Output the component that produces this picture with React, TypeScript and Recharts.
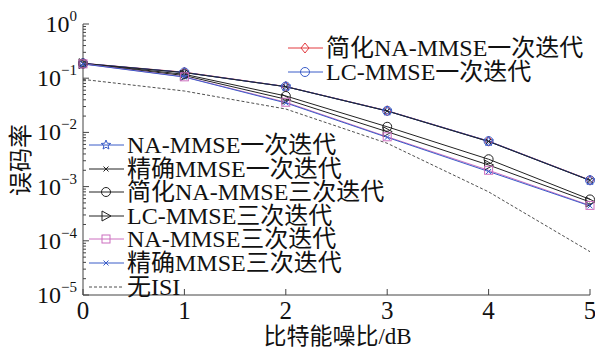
import React from "react";
import { LineChart, Line, XAxis, YAxis } from "recharts";

const SNR = [0, 1, 2, 3, 4, 5];
const X_TICKS = [0, 1, 2, 3, 4, 5];
const DECADES = [1e-5, 1e-4, 1e-3, 1e-2, 1e-1, 1];

// 一次迭代
const SIMP_NA_1 = [0.188, 0.129, 0.0702, 0.0251, 0.0069, 0.00132];
const LC_1 = [0.188, 0.128, 0.07, 0.025, 0.0069, 0.00131];
const NA_1 = [0.187, 0.127, 0.0698, 0.0248, 0.0068, 0.0013];
const EXACT_1 = [0.187, 0.127, 0.0697, 0.0248, 0.0068, 0.0013];
// 三次迭代
const SIMP_NA_3 = [0.186, 0.118, 0.047, 0.0127, 0.0032, 0.00058];
const LC_3 = [0.185, 0.112, 0.041, 0.0103, 0.0025, 0.00052];
const NA_3 = [0.184, 0.106, 0.036, 0.0083, 0.002, 0.00045];
const EXACT_3 = [0.183, 0.105, 0.035, 0.0081, 0.0019, 0.00044];
const NO_ISI = [0.095, 0.058, 0.027, 0.0063, 0.0008, 0.000063];

const W = 595;
const H = 350;
const PL = 83;
const PR = 590;
const PT = 24;
const PB = 295;
const AX = "#444";
const FONT = "'Liberation Serif', 'Noto Sans CJK SC', serif";

const RED = "#e23a3f";
const BLUE = "#3a5cc8";
const PINK = "#cc6fbf";
const BLACK = "#222";

const minorTicks: number[] = [];
DECADES.slice(0, 5).forEach((d) => {
  for (let k = 1; k < 10; k++) minorTicks.push(d * k);
});
minorTicks.push(1);

type Shape = "diamond" | "circle" | "star" | "x" | "tri" | "square" | "none";

function marker(shape: Shape, cx: number, cy: number, color: string, key?: string) {
  const p = { key, fill: "none", stroke: color, strokeWidth: 1 };
  if (shape === "diamond")
    return <path {...p} d={`M${cx},${cy - 5}L${cx + 4},${cy}L${cx},${cy + 5}L${cx - 4},${cy}Z`} />;
  if (shape === "circle") return <circle {...p} cx={cx} cy={cy} r={4.5} />;
  if (shape === "square") return <rect {...p} x={cx - 4} y={cy - 4} width={8} height={8} />;
  if (shape === "tri")
    return <path {...p} d={`M${cx + 5},${cy}L${cx - 4},${cy - 5}L${cx - 4},${cy + 5}Z`} />;
  if (shape === "x")
    return (
      <path {...p} d={`M${cx - 2.5},${cy - 2.5}L${cx + 2.5},${cy + 2.5}M${cx - 2.5},${cy + 2.5}L${cx + 2.5},${cy - 2.5}`} />
    );
  if (shape === "star") {
    let d = "";
    for (let i = 0; i < 10; i++) {
      const r = i % 2 === 0 ? 5 : 2.2;
      const a = -Math.PI / 2 + (i * Math.PI) / 5;
      d += `${i === 0 ? "M" : "L"}${cx + r * Math.cos(a)},${cy + r * Math.sin(a)}`;
    }
    return <path {...p} d={d + "Z"} />;
  }
  return <g key={key} />;
}

const SERIES = [
  { key: "simpNa1", label: "简化NA-MMSE一次迭代", values: SIMP_NA_1, color: RED, shape: "diamond" as Shape },
  { key: "lc1", label: "LC-MMSE一次迭代", values: LC_1, color: BLUE, shape: "circle" as Shape },
  { key: "na1", label: "NA-MMSE一次迭代", values: NA_1, color: BLUE, shape: "star" as Shape },
  { key: "exact1", label: "精确MMSE一次迭代", values: EXACT_1, color: BLACK, shape: "x" as Shape },
  { key: "simpNa3", label: "简化NA-MMSE三次迭代", values: SIMP_NA_3, color: BLACK, shape: "circle" as Shape },
  { key: "lc3", label: "LC-MMSE三次迭代", values: LC_3, color: BLACK, shape: "tri" as Shape },
  { key: "na3", label: "NA-MMSE三次迭代", values: NA_3, color: PINK, shape: "square" as Shape },
  { key: "exact3", label: "精确MMSE三次迭代", values: EXACT_3, color: BLUE, shape: "x" as Shape },
  { key: "noIsi", label: "无ISI", values: NO_ISI, color: BLACK, shape: "none" as Shape, dashed: true },
];

const data = SNR.map((x, i) => {
  const row: Record<string, number> = { snr: x };
  SERIES.forEach((s) => (row[s.key] = s.values[i]));
  return row;
});

const isMajor = (v: number) => Math.abs(Math.log10(v) - Math.round(Math.log10(v))) < 1e-6;

const LeftTick = (props: any) => {
  const { y, payload } = props;
  const v = payload.value;
  const major = isMajor(v);
  const e = Math.round(Math.log10(v));
  return (
    <g>
      <line x1={PL} x2={PL + (major ? 6 : 3)} y1={y} y2={y} stroke={AX} />
      {major && (
        <text x={77} y={y + 8} textAnchor="end" fontSize={24} fontFamily={FONT} fill="#111">
          10
          <tspan dy={-11} fontSize={15}>
            {e === 0 ? "0" : `\u2212${-e}`}
          </tspan>
        </text>
      )}
    </g>
  );
};

const RightTick = (props: any) => {
  const { y, payload } = props;
  const major = isMajor(payload.value);
  return <line x1={PR} x2={PR - (major ? 6 : 3)} y1={y} y2={y} stroke={AX} />;
};

const BottomTick = (props: any) => {
  const { x, payload } = props;
  return (
    <g>
      <line x1={x} x2={x} y1={PB} y2={PB - 6} stroke={AX} />
      <text x={x} y={319} textAnchor="middle" fontSize={25} fontFamily={FONT} fill="#111">
        {payload.value}
      </text>
    </g>
  );
};

const TopTick = (props: any) => {
  const { x } = props;
  return <line x1={x} x2={x} y1={PT} y2={PT + 6} stroke={AX} />;
};

function LegendRow({ s, top, left }: { s: (typeof SERIES)[number]; top: number; left: number }) {
  return (
    <div style={{ position: "absolute", left, top: top - 11, height: 22, display: "flex", alignItems: "center" }}>
      <svg width={36} height={22} style={{ display: "block" }}>
        <line
          x1={0}
          x2={35}
          y1={11}
          y2={11}
          stroke={s.color}
          strokeWidth={s.dashed ? 0.8 : 1}
          strokeDasharray={s.dashed ? "3 2" : undefined}
        />
        {marker(s.shape, 17, 11, s.color)}
      </svg>
      <span style={{ fontFamily: FONT, fontSize: 24, lineHeight: "22px", color: "#111", marginLeft: 2, whiteSpace: "nowrap" }}>
        {s.label}
      </span>
    </div>
  );
}

export default function App() {
  return (
    <div style={{ position: "absolute", left: 0, top: 0, width: W, height: H, background: "#fff" }}>
      <LineChart width={W} height={H} data={data} margin={{ top: PT, right: W - PR, left: 8, bottom: 0 }}>
        <XAxis
          dataKey="snr"
          type="number"
          domain={[0, 5]}
          ticks={X_TICKS}
          interval={0}
          height={H - PB}
          stroke={AX}
          tickLine={false}
          tick={<BottomTick />}
        />
        <XAxis
          xAxisId="top"
          orientation="top"
          dataKey="snr"
          type="number"
          domain={[0, 5]}
          ticks={X_TICKS}
          interval={0}
          height={0}
          stroke={AX}
          tickLine={false}
          tick={<TopTick />}
        />
        <YAxis
          type="number"
          scale="log"
          domain={[1e-5, 1]}
          allowDataOverflow
          ticks={minorTicks}
          interval={0}
          width={PL - 8}
          stroke={AX}
          tickLine={false}
          tick={<LeftTick />}
        />
        <YAxis
          yAxisId="r"
          orientation="right"
          type="number"
          scale="log"
          domain={[1e-5, 1]}
          allowDataOverflow
          ticks={minorTicks}
          interval={0}
          width={0}
          stroke={AX}
          tickLine={false}
          tick={<RightTick />}
        />
        {SERIES.map((s) => (
          <Line
            key={s.key}
            dataKey={s.key}
            type="linear"
            stroke={s.color}
            strokeWidth={s.dashed ? 0.8 : 1}
            strokeDasharray={s.dashed ? "3 2" : undefined}
            isAnimationActive={false}
            dot={(p: any) => marker(s.shape, p.cx, p.cy, s.color, `${s.key}-${p.index}`)}
            activeDot={false}
          />
        ))}
      </LineChart>
      {SERIES.slice(0, 2).map((s, i) => (
        <LegendRow key={s.key} s={s} top={48 + i * 23.6} left={288} />
      ))}
      {SERIES.slice(2).map((s, i) => (
        <LegendRow key={s.key} s={s} top={145 + i * 23.6} left={89} />
      ))}
      <div
        style={{
          position: "absolute",
          left: 0,
          width: W,
          top: 325,
          textAlign: "center",
          paddingLeft: 80,
          boxSizing: "border-box",
          fontFamily: FONT,
          fontSize: 23,
          lineHeight: "24px",
          color: "#111",
        }}
      >
        比特能噪比/dB
      </div>
      <div
        style={{
          position: "absolute",
          left: 18,
          top: 160,
          transform: "translate(-50%, -50%) rotate(-90deg)",
          fontFamily: FONT,
          fontSize: 24,
          color: "#111",
          whiteSpace: "nowrap",
        }}
      >
        误码率
      </div>
    </div>
  );
}
